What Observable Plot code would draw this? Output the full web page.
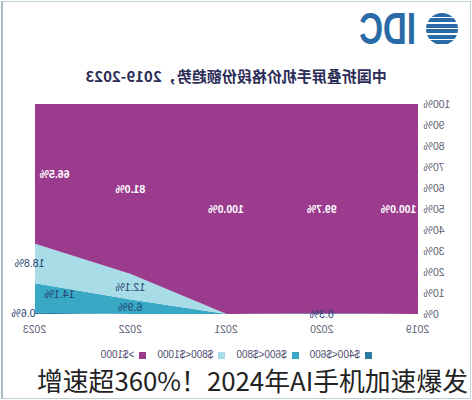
<!DOCTYPE html>
<html><head><meta charset="utf-8">
<script src="https://cdn.jsdelivr.net/npm/d3@7"></script>
<script src="https://cdn.jsdelivr.net/npm/@observablehq/plot@0.6"></script>
<style>
html,body{margin:0;padding:0;background:#fff;}
body{width:472px;height:400px;position:relative;overflow:hidden;font-family:"Noto Sans CJK SC","Noto Sans",sans-serif;}
#frame{position:absolute;left:1px;top:1px;width:467px;height:396px;border:1px solid #bdd1d3;border-left:2px solid #a3bfc2;}
#mirror{position:absolute;left:0;top:0;width:472px;height:400px;transform:scaleX(-1);transform-origin:236px 0;}
#globe{position:absolute;left:14px;top:13px;width:32px;height:32px;border-radius:50%;
  background:repeating-linear-gradient(to bottom,#2a6aa6 0px,#2a6aa6 4px,#fff 4px,#fff 5.4px);}
#idc{position:absolute;left:56px;top:4px;font-family:"Liberation Sans",Arial,sans-serif;font-weight:bold;font-size:44px;line-height:50px;color:#2a6aa6;transform:scaleX(0.75);transform-origin:0 0;white-space:nowrap;}
#title{position:absolute;left:0;width:472px;top:66px;text-align:center;font-size:15px;line-height:20px;font-weight:bold;color:#2b2c57;white-space:nowrap;}
#chart{position:absolute;left:0;top:90px;}
#legend{position:absolute;left:100px;top:348px;display:flex;gap:11px;font-family:"Liberation Sans",sans-serif;font-size:10px;line-height:14px;color:#4c4e6e;white-space:nowrap;}
.item{display:flex;align-items:center;gap:5px}
.sw{width:7px;height:7px;display:inline-block}
#caption{position:absolute;left:37px;top:365px;font-size:25.8px;line-height:30px;color:#222;white-space:nowrap;}
</style>
</head>
<body>
<div id="frame"></div>
<div id="mirror">
  <div id="globe"></div>
  <div id="idc">IDC</div>
  <div id="title"></div>
  <div id="chart"></div>
  <div id="legend"></div>
</div>
<div id="caption"></div>
<script>
// ---- data ----
const titleText = "中国折叠屏手机价格段份额趋势，2019-2023";
const captionText = "增速超360%！2024年AI手机加速爆发";
const years = [2019, 2020, 2021, 2022, 2023];
const categories = ["$400<$600", "$600<$800", "$800<$1000", ">$1000"];
const share400to600 = [0, 0.3, 0, 0, 0.6];
const share600to800 = [0, 0, 0, 6.9, 14.1];
const share800to1000 = [0, 0, 0, 12.1, 18.8];
const shareOver1000 = [100.0, 99.7, 100.0, 81.0, 66.5];
const yTicks = [0, 10, 20, 30, 40, 50, 60, 70, 80, 90, 100];

// ---- styles ----
const colors = ["#2b7aa0", "#38a8c4", "#a8dce7", "#9b3b8d"];
const labelOffsets = { // [dx, dy] per "year|category"
  "2019|>$1000": [19, 0],
  "2023|>$1000": [-20, 0],
  "2023|$800<$1000": [5, 0],
  "2023|$600<$800": [-25, -4],
  "2023|$400<$600": [11, 0]
};

const series = [share400to600, share600to800, share800to1000, shareOver1000];
const rows = [];
years.forEach((yr, i) => categories.forEach((c, j) => rows.push({year: yr, cat: c, value: series[j][i]})));

const labels = [];
years.forEach((yr, i) => {
  let acc = 0;
  categories.forEach((c, j) => {
    const v = series[j][i];
    if (v > 0) labels.push({year: yr, cat: c, value: v, mid: acc + v / 2});
    acc += v;
  });
});

document.getElementById("title").textContent = titleText;
document.getElementById("caption").textContent = captionText;

const labelMarks = labels.map(d => {
  const off = labelOffsets[d.year + "|" + d.cat] || [0, 0];
  const inPurple = d.cat === ">$1000";
  return Plot.text([d], {
    x: "year", y: "mid", text: e => e.value.toFixed(1) + "%",
    dx: off[0], dy: off[1],
    fill: inPurple ? "#ffffff" : "#23406e",
    fontWeight: inPurple ? "bold" : "normal",
    fontSize: 10.5
  });
});

const chart = Plot.plot({
  width: 472, height: 250,
  marginTop: 14, marginBottom: 26, marginLeft: 54, marginRight: 35,
  style: {fontFamily: "Liberation Sans, sans-serif", fontSize: "10px", color: "#5d5f73", background: "transparent"},
  x: {domain: [2019, 2023]},
  y: {domain: [0, 100]},
  color: {domain: categories, range: colors},
  marks: [
    Plot.areaY(rows, {x: "year", y: "value", z: "cat", fill: "cat"}),
    Plot.axisX({ticks: years, tickFormat: d => String(d), tickSize: 0, tickPadding: 11, label: null, fontSize: 10.5}),
    Plot.axisY({ticks: yTicks, tickFormat: d => d + "%", tickSize: 0, tickPadding: 6, label: null, fontSize: 10.5}),
    ...labelMarks
  ]
});
document.getElementById("chart").appendChild(chart);

const legend = document.getElementById("legend");
categories.forEach((c, i) => {
  const item = document.createElement("div");
  item.className = "item";
  const sw = document.createElement("span");
  sw.className = "sw";
  sw.style.background = colors[i];
  const t = document.createElement("span");
  t.textContent = c;
  item.appendChild(sw); item.appendChild(t);
  legend.appendChild(item);
});
</script>
</body></html>
